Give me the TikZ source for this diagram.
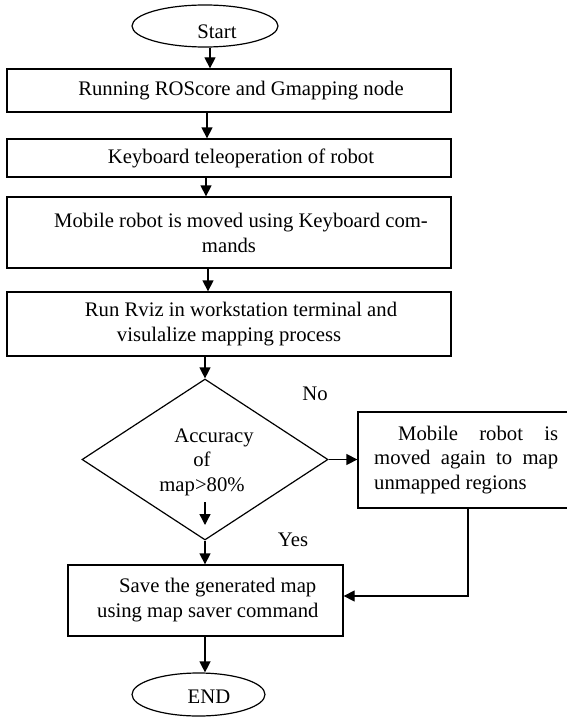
\documentclass[tikz,border=0pt]{standalone}
\usepackage{fontspec}
\setmainfont{Liberation Serif}
\usetikzlibrary{arrows.meta,shapes.geometric}
\begin{document}
\begin{tikzpicture}[x=1pt,y=-1pt,
  every node/.style={font=\fontsize{20.7}{25}\selectfont},
  box/.style={draw,line width=1.3pt,rectangle,inner sep=0pt,align=center},
  term/.style={draw,line width=1.2pt,ellipse,inner sep=0pt},
  dec/.style={draw,line width=1.2pt,diamond,inner sep=0pt},
  arr/.style={line width=1.3pt,-{Triangle[length=11pt,width=11pt]}},
  conn/.style={line width=1.2pt},
  lbl/.style={inner sep=0pt}]
\useasboundingbox (0,0) rectangle (567,717);

% shapes
\node[term, minimum width=146pt, minimum height=42pt] (st) at (205,26) {};
\node[lbl] (stt) at (217,32) {Start};

\node[box, minimum width=444pt, minimum height=43pt] (b1) at (229,90.5)
  {\hspace*{24pt}Running ROScore and Gmapping node};
\node[box, minimum width=444pt, minimum height=38pt] (b2) at (229,158)
  {\hspace*{24pt}Keyboard teleoperation of robot};
\node[box, minimum width=444pt, minimum height=71pt] (b3) at (229,232.5)
  {\hspace*{24pt}Mobile robot is moved using Keyboard com-\\mands};
\node[box, minimum width=444pt, minimum height=64pt] (b4) at (229,324)
  {\hspace*{24pt}Run Rviz in workstation terminal and\\visulalize mapping process};

\node[dec, minimum width=246pt, minimum height=161pt] (dm) at (205,459.5) {};
\node[lbl, align=center, font=\fontsize{20.7}{24.5}\selectfont] (dmt) at (202,462)
  {\hspace*{24pt}Accuracy\\of\\map>80\%};

\node[box, minimum width=211pt, minimum height=96pt] (rb) at (463.5,460) {};
\node[lbl, anchor=west, font=\fontsize{20.7}{24.5}\selectfont] (rbt) at (374,460)
  {\parbox{184pt}{\hspace*{24pt}Mobile\hfill robot\hfill is\\moved\hfill again\hfill to\hfill map\\unmapped regions}};

\node[box, minimum width=275pt, minimum height=71pt] (sb) at (205.5,600.5) {};
\node[lbl, anchor=west, align=left] (sbt) at (97,600)
  {\hspace*{22pt}Save the generated map\\using map saver command};

\node[term, minimum width=133pt, minimum height=43pt] (en) at (198.5,694.5) {};
\node[lbl] (ent) at (209,697) {END};

\node[lbl] (no) at (315,394) {No};
\node[lbl] (yes) at (293,540) {Yes};

\coordinate (ia) at (205,502);
\coordinate (ib) at (205,525);

% connectors
\draw[arr] ([xshift=5pt]st.south) -- ([xshift=5pt]st.south |- b1.north);
\draw[arr] ([xshift=-22pt]b1.south) -- ([xshift=-22pt]b2.north);
\draw[arr] ([xshift=-23pt]b2.south) -- ([xshift=-23pt]b3.north);
\draw[arr] ([xshift=-21pt]b3.south) -- ([xshift=-21pt]b4.north);
\draw[arr] (b4.south -| dm.north) -- (dm.north);
\draw[arr] (ia) -- (ib);
\draw[arr] (dm.east) -- (dm.east -| rb.west);
\draw[arr] (dm.south) -- (dm.south |- sb.north);
\draw[arr] ([xshift=4.5pt]rb.south) |- ([yshift=4.5pt]sb.east);
\draw[arr] ([xshift=-0.5pt]sb.south) -- ([xshift=-0.5pt]sb.south |- en.north);
\end{tikzpicture}
\end{document}
